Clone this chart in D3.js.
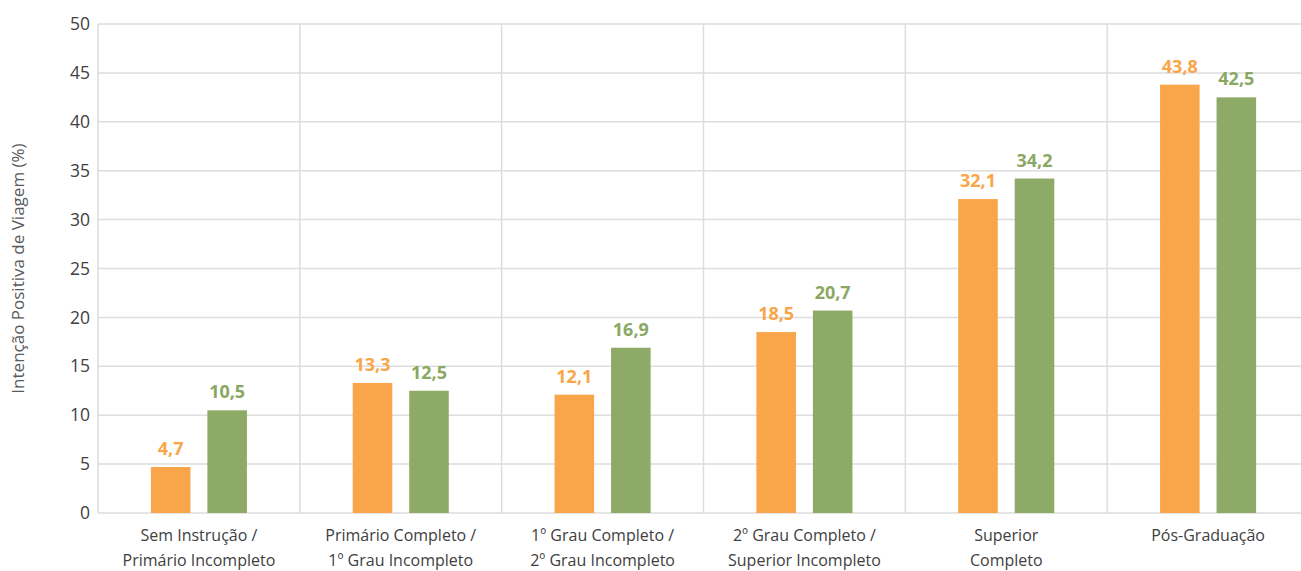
<!DOCTYPE html>
<html>
<head>
<meta charset="utf-8">
<script src="https://cdn.jsdelivr.net/npm/d3@7"></script>
<style>
  html, body { margin: 0; padding: 0; background: #fff; }
  svg { display: block; }
</style>
</head>
<body>
<svg id="chart" width="1301" height="571"></svg>
<script>
// Escolaridade (rótulos em duas linhas)
const categories = [
  ["Sem Instrução /", "Primário Incompleto"],
  ["Primário Completo /", "1º Grau Incompleto"],
  ["1º Grau Completo /", "2º Grau Incompleto"],
  ["2º Grau Completo /", "Superior Incompleto"],
  ["Superior", "Completo"],
  ["Pós-Graduação"]
];
const seriesA = [4.7, 13.3, 12.1, 18.5, 32.1, 43.8];
const seriesB = [10.5, 12.5, 16.9, 20.7, 34.2, 42.5];
const yTicks = [0, 5, 10, 15, 20, 25, 30, 35, 40, 45, 50];
const yTitle = "Intenção Positiva de Viagem (%)";

const colors = { a: "#F9A54A", b: "#8DAA66" };
const labelColors = { a: "#F9A54A", b: "#8BA863" };
const font = "'Open Sans', 'Noto Sans', sans-serif";

const svg = d3.select("#chart");
const margin = { left: 98, right: -8, top: 24, bottom: 58 };
const W = 1301, H = 571;
const x0 = margin.left, x1 = W - margin.right;
const yTop = margin.top, yBot = H - margin.bottom;

const idx = d3.range(categories.length);
const x = d3.scaleBand().domain(idx).range([x0, x1]).padding(0);
const xs = d3.scaleBand().domain(["a", "b"]).range([0, x.bandwidth()]).paddingInner(0.30).paddingOuter(0.936);
const y = d3.scaleLinear().domain([0, 50]).range([yBot, yTop]);

const grid = "#DDDDDD";

// horizontal gridlines
svg.append("g").selectAll("line").data(yTicks).join("line")
  .attr("x1", x0).attr("x2", x1)
  .attr("y1", d => y(d)).attr("y2", d => y(d))
  .attr("stroke", grid).attr("stroke-width", 1.5);

// vertical separators between categories
svg.append("g").selectAll("line").data(idx).join("line")
  .attr("x1", d => x(d)).attr("x2", d => x(d))
  .attr("y1", yTop).attr("y2", yBot)
  .attr("stroke", grid).attr("stroke-width", 1.5);

// y axis labels
const yAxis = d3.axisLeft(y).tickValues(yTicks).tickSize(0).tickPadding(8);
const gy = svg.append("g").attr("transform", `translate(${x0},0)`).call(yAxis);
gy.select(".domain").remove();
gy.selectAll("text").attr("font-family", font).attr("font-size", 17.5).attr("fill", "#404040");

// y title
svg.append("text")
  .attr("transform", `translate(24,${(yTop + yBot) / 2}) rotate(-90)`)
  .attr("text-anchor", "middle")
  .attr("font-family", font).attr("font-size", 17).attr("fill", "#595959")
  .text(yTitle);

// bars
const rows = idx.map(i => ({ i, a: seriesA[i], b: seriesB[i] }));
const g = svg.append("g");
["a", "b"].forEach(key => {
  g.selectAll(`rect.${key}`).data(rows).join("rect")
    .attr("class", key)
    .attr("x", d => x(d.i) + xs(key))
    .attr("width", xs.bandwidth())
    .attr("y", d => y(d[key]))
    .attr("height", d => y(0) - y(d[key]))
    .attr("fill", colors[key]);
  g.selectAll(`text.${key}`).data(rows).join("text")
    .attr("class", key)
    .attr("x", d => x(d.i) + xs(key) + xs.bandwidth() / 2)
    .attr("y", d => y(d[key]) - 12)
    .attr("text-anchor", "middle")
    .attr("font-family", font).attr("font-size", 18).attr("font-weight", "bold")
    .attr("fill", labelColors[key])
    .text(d => d3.format(".1f")(d[key]).replace(".", ","));
});

// category labels
const cg = svg.append("g").selectAll("text").data(idx).join("text")
  .attr("text-anchor", "middle")
  .attr("font-family", font).attr("font-size", 16).attr("fill", "#404040")
  .attr("transform", d => `translate(${x(d) + x.bandwidth() / 2},0)`);
cg.each(function(d) {
  const t = d3.select(this);
  categories[d].forEach((line, k) => {
    t.append("tspan").attr("x", 0).attr("y", 541 + k * 24.5).text(line);
  });
});
</script>
</body>
</html>
